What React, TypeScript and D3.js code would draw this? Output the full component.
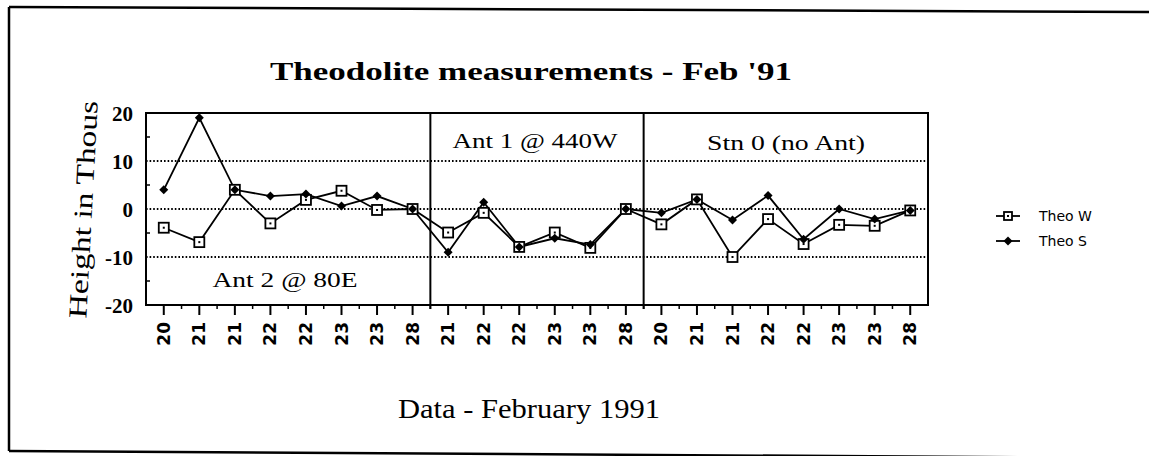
import React, { useEffect, useRef } from 'react';
import * as d3 from 'd3';

// tick labels (day of Feb '91), three groups
const dayLabels = [
  '20', '21', '21', '22', '22', '23', '23', '28',
  '21', '22', '22', '23', '23', '28',
  '20', '21', '21', '22', '22', '23', '23', '28',
];
const theoW = [-3.9, -6.9, 4, -3, 1.9, 3.8, -0.2, 0, -4.9, -0.8, -7.9, -4.9, -8.1, 0, -3.2, 2, -10, -2.1, -7.3, -3.3, -3.5, -0.3];
const theoS = [4, 19, 4, 2.7, 3.1, 0.6, 2.7, 0, -9, 1.4, -7.9, -6.1, -7.4, 0, -0.8, 2, -2.3, 2.8, -6.3, 0, -2.1, -0.3];
const sectionStarts = [8, 14];
const sectionNotes = ['Ant 2 @ 80E', 'Ant 1 @ 440W', 'Stn 0 (no Ant)'];
const yTicks = [20, 10, 0, -10, -20];
const gridValues = [10, 0, -10];
const minorY = [15, 5, -5, -15];
const seriesNames = ['Theo W', 'Theo S'];

const W = 1149, H = 456;
const plot = { left: 146, right: 928, top: 113, bottom: 305 };

function App() {
  const ref = useRef<SVGSVGElement | null>(null);

  useEffect(() => {
    const svg = d3.select(ref.current);
    svg.selectAll('*').remove();

    const idx = dayLabels.map((_, i) => i);
    const x = d3.scaleBand<number>().domain(idx).range([plot.left, plot.right]);
    const cx = (i: number) => (x(i) as number) + x.bandwidth() / 2;
    const y = d3.scaleLinear().domain([-20, 20]).range([plot.bottom, plot.top]);

    // outer frame (scan is a bit tilted)
    const frame = svg.append('g').attr('stroke', '#000').attr('stroke-width', 2.5).attr('fill', 'none');
    frame.append('line').attr('x1', 9).attr('y1', 7).attr('x2', W).attr('y2', 12);
    frame.append('line').attr('x1', 9).attr('y1', 7).attr('x2', 9).attr('y2', 451);
    frame.append('line').attr('x1', 9).attr('y1', 451).attr('x2', W).attr('y2', 458);

    // title
    svg.append('text')
      .attr('x', 531).attr('y', 80)
      .attr('text-anchor', 'middle')
      .attr('font-family', '"Liberation Serif", serif')
      .attr('font-weight', 'bold')
      .attr('font-size', 25)
      .attr('textLength', 522)
      .attr('lengthAdjust', 'spacingAndGlyphs')
      .text("Theodolite measurements - Feb '91");

    // dotted grid
    svg.append('g').selectAll('line').data(gridValues).enter().append('line')
      .attr('x1', plot.left).attr('x2', plot.right)
      .attr('y1', d => y(d)).attr('y2', d => y(d))
      .attr('stroke', '#000').attr('stroke-width', 1.8)
      .attr('stroke-dasharray', '1.6,2');

    // plot box
    svg.append('rect')
      .attr('x', plot.left).attr('y', plot.top)
      .attr('width', plot.right - plot.left).attr('height', plot.bottom - plot.top)
      .attr('fill', 'none').attr('stroke', '#000').attr('stroke-width', 2);

    // section separators
    svg.append('g').selectAll('line').data(sectionStarts).enter().append('line')
      .attr('x1', d => x(d) as number).attr('x2', d => x(d) as number)
      .attr('y1', plot.top).attr('y2', plot.bottom + 4)
      .attr('stroke', '#000').attr('stroke-width', 2);

    // y ticks, labels
    svg.append('g').selectAll('line').data(minorY).enter().append('line')
      .attr('x1', plot.left).attr('x2', plot.left + 4)
      .attr('y1', d => y(d)).attr('y2', d => y(d))
      .attr('stroke', '#000').attr('stroke-width', 1.5);
    svg.append('g').selectAll('text').data(yTicks).enter().append('text')
      .attr('x', 133).attr('y', d => y(d) + 1)
      .attr('dy', '0.35em')
      .attr('text-anchor', 'end')
      .attr('font-family', '"Liberation Serif", serif')
      .attr('font-weight', 'bold')
      .attr('font-size', 21)
      .text(d => d);

    // x ticks
    svg.append('g').selectAll('line').data(idx).enter().append('line')
      .attr('x1', d => cx(d)).attr('x2', d => cx(d))
      .attr('y1', plot.bottom).attr('y2', plot.bottom + 10)
      .attr('stroke', '#000').attr('stroke-width', 2);
    svg.append('g').selectAll('line').data(idx.slice(1)).enter().append('line')
      .attr('x1', d => x(d) as number).attr('x2', d => x(d) as number)
      .attr('y1', plot.bottom).attr('y2', plot.bottom + 4)
      .attr('stroke', '#000').attr('stroke-width', 1.5);
    svg.append('g').selectAll('text').data(idx).enter().append('text')
      .attr('transform', d => `translate(${cx(d) + 6},322) rotate(-90)`)
      .attr('text-anchor', 'end')
      .attr('font-family', '"DejaVu Sans", sans-serif')
      .attr('font-weight', 'bold')
      .attr('font-size', 17)
      .text(d => dayLabels[d]);

    // axis titles
    svg.append('text')
      .attr('transform', 'translate(92,210) rotate(-87)')
      .attr('text-anchor', 'middle')
      .attr('font-family', '"Liberation Serif", serif')
      .attr('font-size', 26)
      .attr('textLength', 218)
      .attr('lengthAdjust', 'spacingAndGlyphs')
      .text('Height in Thous');
    svg.append('text')
      .attr('x', 529).attr('y', 418)
      .attr('text-anchor', 'middle')
      .attr('font-family', '"Liberation Serif", serif')
      .attr('font-size', 27)
      .attr('textLength', 262)
      .attr('lengthAdjust', 'spacingAndGlyphs')
      .text('Data - February 1991');

    // section notes
    const notePos = [
      { x: 285, y: 287, len: 145 },
      { x: 535, y: 148, len: 165 },
      { x: 786, y: 150, len: 158 },
    ];
    svg.append('g').selectAll('text').data(sectionNotes).enter().append('text')
      .attr('x', (d, i) => notePos[i].x).attr('y', (d, i) => notePos[i].y)
      .attr('text-anchor', 'middle')
      .attr('font-family', '"Liberation Serif", serif')
      .attr('font-size', 20)
      .attr('textLength', (d, i) => notePos[i].len)
      .attr('lengthAdjust', 'spacingAndGlyphs')
      .text(d => d);

    // lines
    const line = d3.line<number>().x((d, i) => cx(i)).y(d => y(d));
    [theoS, theoW].forEach(s => {
      svg.append('path').datum(s)
        .attr('d', line)
        .attr('fill', 'none').attr('stroke', '#000').attr('stroke-width', 1.8);
    });

    const square = (g: any, px: number, py: number, s: number) => {
      g.append('rect').attr('x', px - s / 2).attr('y', py - s / 2)
        .attr('width', s).attr('height', s)
        .attr('fill', '#fff').attr('stroke', '#000').attr('stroke-width', 1.8);
      g.append('rect').attr('x', px - 1).attr('y', py - 1).attr('width', 2).attr('height', 2).attr('fill', '#000');
    };
    const diamond = (g: any, px: number, py: number, s: number) => {
      g.append('path')
        .attr('d', `M${px},${py - s / 2}L${px + s / 2},${py}L${px},${py + s / 2}L${px - s / 2},${py}Z`)
        .attr('fill', '#000');
    };

    const marks = svg.append('g');
    theoW.forEach((v, i) => square(marks, cx(i), y(v), 10));
    theoS.forEach((v, i) => diamond(marks, cx(i), y(v), 9));

    // legend
    const leg = svg.append('g');
    seriesNames.forEach((name, i) => {
      const ly = 216 + i * 25;
      leg.append('line').attr('x1', 996).attr('x2', 1020).attr('y1', ly).attr('y2', ly)
        .attr('stroke', '#000').attr('stroke-width', 1.8);
      if (i === 0) square(leg, 1008, ly, 8);
      else diamond(leg, 1008, ly, 9);
      leg.append('text')
        .attr('x', 1039).attr('y', ly).attr('dy', '0.36em')
        .attr('font-family', '"DejaVu Sans", sans-serif')
        .attr('font-size', 14)
        .text(name);
    });
  }, []);

  return (
    <svg ref={ref} width={W} height={H}
      style={{ position: 'absolute', left: 0, top: 0, background: '#fff' }} />
  );
}

export default App;
